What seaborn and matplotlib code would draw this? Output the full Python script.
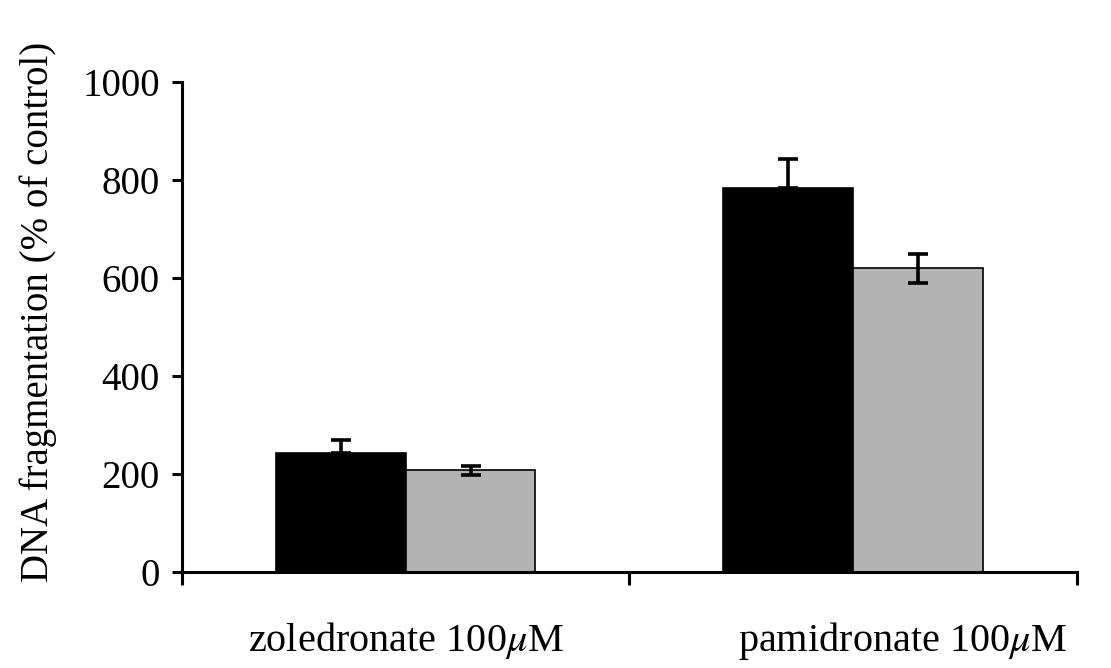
import pandas as pd
import matplotlib.pyplot as plt
import matplotlib.transforms as mtransforms
import seaborn as sns

# Values
treatments = ['zoledronate 100$\\mu$M', 'pamidronate 100$\\mu$M']
series = ['A', 'B']
values_a = [242, 784]
values_b = [207, 620]
err_a = [28, 59]
err_b = [10, 30]

df = pd.DataFrame({
    'treatment': treatments * 2,
    'series': [series[0]] * 2 + [series[1]] * 2,
    'value': values_a + values_b,
})

sns.set_style('ticks')
plt.rcParams['font.family'] = ['Liberation Serif', 'DejaVu Serif']
plt.rcParams['mathtext.fontset'] = 'stix'
plt.rcParams['text.color'] = 'black'
plt.rcParams['axes.labelcolor'] = 'black'
plt.rcParams['xtick.color'] = 'black'
plt.rcParams['ytick.color'] = 'black'

fig = plt.figure(figsize=(11.11, 6.68), dpi=100)
ax = fig.add_axes([0.164, 0.144, 0.805, 0.733])

sns.barplot(data=df, x='treatment', y='value', hue='series',
            palette=['#000000', '#b3b3b3'], width=0.58, errorbar=None,
            edgecolor='black', linewidth=1.2, legend=False, ax=ax)

# error bars: black series only upward, grey both ways
for cont, errs, both in zip(ax.containers, [err_a, err_b], [False, True]):
    xs = [b.get_x() + b.get_width() / 2 for b in cont]
    ys = [b.get_height() for b in cont]
    lower = errs if both else [0] * len(errs)
    ax.errorbar(xs, ys, yerr=[lower, errs], fmt='none', ecolor='black',
                elinewidth=2.6, capsize=7, capthick=2.6, zorder=5)

ax.set_ylim(0, 1000)
ax.set_xlim(-0.5, 1.5)
ax.set_yticks(range(0, 1001, 200))
ax.set_ylabel('DNA fragmentation (% of control)', fontsize=28)
ax.yaxis.set_label_coords(-0.14, 0.53)
ax.set_xlabel('')

sns.despine(ax=ax)
for s in ['left', 'bottom']:
    ax.spines[s].set_linewidth(2.2)
    ax.spines[s].set_color('black')

ax.tick_params(axis='y', labelsize=28, length=7, width=2.2, pad=9)
ax.tick_params(axis='x', which='major', length=0, labelsize=29, pad=35)
ax.set_xticks([-0.5, 0.5, 1.5], minor=True)
ax.tick_params(axis='x', which='minor', length=9, width=2.2, direction='out')

# second category label sits a bit to the right in the original
lbl = ax.get_xticklabels()[1]
lbl.set_transform(lbl.get_transform() + mtransforms.ScaledTranslation(0.5, 0, fig.dpi_scale_trans))

fig.savefig('out.png', dpi=100)
